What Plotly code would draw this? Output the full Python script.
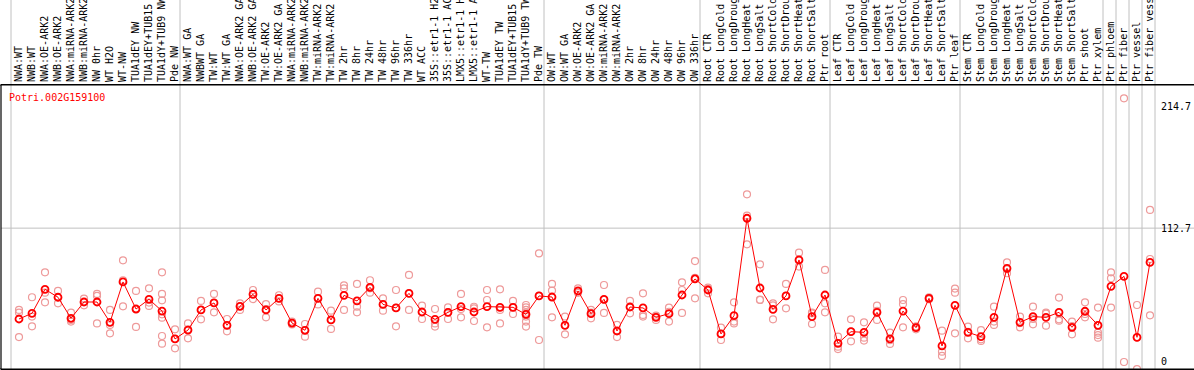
import plotly.graph_objects as go

categories = [
    "NWA:WT", "NWB:WT", "NWA:OE-ARK2", "NWB:OE-ARK2", "NWA:miRNA-ARK2", "NWB:miRNA-ARK2",
    "NW 0hr", "WT H2O", "WT-NW", "TUA1dEY NW", "TUA1dEY+TUB15 NW", "TUA1dY+TUB9 NW", "Pde NW",
    "NWA:WT GA", "NWBWT GA", "TW:WT", "TW:WT GA", "NWA:OE-ARK2 GA", "NWB:OE-ARK2 GA",
    "TW:OE-ARK2", "TW:OE-ARK2 GA", "NWA:miRNA-ARK2 GA", "NWB:miRNA-ARK2 GA", "TW:miRNA-ARK2",
    "TW:miRNA-ARK2", "TW 2hr", "TW 8hr", "TW 24hr", "TW 48hr", "TW 96hr", "TW 336hr", "WT ACC",
    "35S::etr1-1 H2O", "35S::etr1-1 ACC", "LMX5::etr1-1 H2O", "LMX5::etr1-1 ACC", "WT-TW",
    "TUA1dEY TW", "TUA1dEY+TUB15 TW", "TUA1dY+TUB9 TW", "Pde TW",
    "OW:WT", "OW:WT GA", "OW:OE-ARK2", "OW:OE-ARK2 GA", "OW:miRNA-ARK2", "OW:miRNA-ARK2",
    "OW 2hr", "OW 8hr", "OW 24hr", "OW 48hr", "OW 96hr", "OW 336hr",
    "Root CTR", "Root LongCold", "Root LongDrought", "Root LongHeat", "Root LongSalt",
    "Root ShortCold", "Root ShortDrought", "Root ShortHeat", "Root ShortSalt", "Ptr root",
    "Leaf CTR", "Leaf LongCold", "Leaf LongDrought", "Leaf LongHeat", "Leaf LongSalt",
    "Leaf ShortCold", "Leaf ShortDrought", "Leaf ShortHeat", "Leaf ShortSalt", "Ptr leaf",
    "Stem CTR", "Stem LongCold", "Stem LongDrought", "Stem LongHeat", "Stem LongSalt",
    "Stem ShortCold", "Stem ShortDrought", "Stem ShortHeat", "Stem ShortSalt", "Ptr shoot",
    "Ptr xylem", "Ptr phloem", "Ptr fiber", "Ptr vessel", "Ptr fiber vessel",
]

means = [
    36.2, 41.0, 61.2, 54.5, 36.8, 50.5, 50.5, 33.4, 67.4, 44.6, 52.8, 42.9, 19.4,
    26.9, 43.8, 49.7, 30.9, 46.9, 57.0, 43.8, 53.6, 32.8, 26.7, 53.6, 35.4, 56.1,
    51.4, 62.9, 48.5, 45.5, 57.8, 42.1, 35.9, 41.8, 46.6, 42.1, 46.6, 46.0, 46.0,
    40.1, 55.6, 54.7, 30.9, 59.8, 40.7, 52.8, 26.1, 46.3, 45.5, 37.6, 40.7, 56.4,
    69.9, 60.6, 23.6, 39.0, 121.0, 62.3, 44.3, 55.6, 85.9, 38.2, 56.4, 15.7, 25.5,
    25.0, 41.8, 19.4, 42.9, 28.9, 53.6, 13.5, 47.7, 25.0, 21.3, 37.6, 78.9, 33.4,
    38.2, 37.6, 41.8, 29.2, 42.7, 30.9, 63.7, 72.1, 20.8, 83.9,
]

replicates = [
    [43.8, 41.5, 21.0], [54.5, 38.2, 30.0], [75.5, 58.4, 50.2], [59.8, 54.3, 49.4],
    [41.5, 35.4, 34.0], [53.3, 50.5, 47.7], [57.3, 55.6, 32.5], [43.8, 31.2, 24.1],
    [85.6, 68.8, 46.9], [59.8, 44.6, 29.5], [62.0, 50.0, 47.2],
    [75.5, 57.3, 51.9, 40.1, 37.3, 21.9, 15.4], [27.5, 19.4, 11.5],
    [32.5, 27.5, 19.9], [51.4, 43.8, 35.9], [57.3, 49.7, 41.8], [36.2, 30.9, 25.8],
    [49.4, 46.9, 43.8], [60.6, 57.3, 53.0], [48.8, 44.5, 37.6], [56.2, 53.6, 51.0],
    [34.0, 32.8, 31.6], [32.0, 26.7, 21.3], [59.2, 53.6, 48.5], [43.2, 35.4, 27.8],
    [64.5, 62.0, 43.8], [65.7, 46.6, 41.8], [68.8, 62.0, 58.4], [53.6, 48.5, 43.2],
    [60.6, 45.5, 30.0], [73.3, 57.8, 43.8], [47.4, 42.1, 36.2], [44.6, 32.5, 29.8],
    [46.0, 41.8, 36.2], [57.3, 44.6, 37.6], [46.5, 45.2, 34.5], [60.6, 52.2, 29.2],
    [61.2, 43.8, 32.5], [51.4, 46.0, 40.4], [48.0, 46.0, 43.8, 41.5, 38.2, 34.0, 29.8],
    [91.5, 55.6, 18.5],
    [65.7, 60.1, 37.6], [38.2, 31.0, 23.3], [62.0, 59.2, 58.2], [43.8, 41.5, 36.8],
    [64.8, 52.5, 41.3], [31.2, 26.1, 21.0], [51.4, 46.5, 41.0], [57.8, 39.6, 38.2],
    [39.0, 38.4, 35.4], [45.8, 42.3, 34.0], [67.1, 60.6, 41.3], [85.0, 70.9, 53.6],
    [62.6, 61.4, 57.8], [28.9, 23.6, 18.5], [50.2, 34.0, 32.5], [141.2, 123.2, 99.1],
    [82.2, 52.5, 52.2], [49.4, 47.6, 35.9], [65.7, 55.6, 45.2], [92.0, 85.4, 80.3],
    [41.0, 41.6, 32.0], [77.5, 49.4, 41.8],
    [21.3, 12.9, 10.9], [35.9, 25.5, 17.4], [33.4, 20.5, 18.0], [47.4, 43.0, 35.4],
    [24.7, 18.3, 15.2], [52.2, 48.8, 29.2], [30.0, 29.2, 27.5], [54.5, 53.6, 52.8],
    [26.4, 8.7, 5.1], [61.8, 58.4, 24.1],
    [29.8, 25.3, 19.9], [26.9, 19.1, 17.7], [46.6, 34.0, 31.2], [83.9, 78.1, 74.7],
    [38.2, 32.8, 29.2], [46.6, 36.3, 31.7], [41.5, 40.7, 30.6], [54.2, 35.9, 34.8],
    [34.0, 30.3, 23.3], [50.2, 40.4, 37.6], [45.8, 31.0, 24.7, 22.7, 20.5],
    [75.5, 70.4, 45.8], [222.0, 0.0], [48.0, 20.8, -6.0], [128.0, 86.7, 39.3],
]

# index of the first category of each group (sample set boundaries)
group_starts = [0, 13, 41, 53, 63, 73, 84, 85, 86, 87, 88]

y_ticks = [0, 112.7, 214.7]
y_ticktext = ["0", "112.7", "214.7"]
gene_id = "Potri.002G159100"

FONT = "DejaVu Sans Mono"
GRID = "#c0c0c0"

x_idx = list(range(len(categories)))
rep_x, rep_y = [], []
for i, reps in enumerate(replicates):
    for v in reps:
        rep_x.append(i)
        rep_y.append(v)

fig = go.Figure()
fig.add_trace(go.Scatter(
    x=rep_x, y=rep_y, mode="markers",
    marker=dict(symbol="circle-open", size=7, color="#ee9a9a", line=dict(width=1.2)),
    hoverinfo="skip", showlegend=False,
))
fig.add_trace(go.Scatter(
    x=x_idx, y=means, mode="lines+markers",
    line=dict(color="#ff0000", width=1),
    marker=dict(symbol="circle-open", size=7, color="#ff0000", line=dict(width=1.8)),
    showlegend=False,
))

shapes = []
for k in group_starts:
    shapes.append(dict(type="line", xref="x", yref="paper", x0=k - 0.615, x1=k - 0.615,
                       y0=0, y1=1.31, line=dict(color=GRID, width=1), layer="below"))
shapes.append(dict(type="line", xref="paper", yref="y", x0=0, x1=1, y0=y_ticks[1], y1=y_ticks[1],
                   line=dict(color=GRID, width=1), layer="below"))
# frame: top, bottom, left
for yy in (0, 1):
    shapes.append(dict(type="line", xref="paper", yref="paper", x0=-0.002, x1=1.0, y0=yy, y1=yy,
                       line=dict(color="black", width=1.2), layer="above"))
shapes.append(dict(type="line", xref="paper", yref="paper", x0=0, x1=0, y0=0, y1=1,
                   line=dict(color="black", width=1.2), layer="above"))

fig.update_layout(
    width=1194, height=370,
    margin=dict(l=1, r=0, t=85, b=1, pad=0, autoexpand=False),
    paper_bgcolor="white", plot_bgcolor="white",
    font=dict(family=FONT, size=10, color="black"),
    title=dict(text=gene_id, x=9 / 1194, xanchor="left", xref="container",
               y=1 - 97 / 370, yanchor="middle", yref="container",
               font=dict(family=FONT, size=10, color="#ff0000")),
    xaxis=dict(range=[-1.385, 90.385], side="top", tickmode="array", tickvals=x_idx,
               ticktext=categories, tickangle=-90, showgrid=False, zeroline=False,
               showline=True, linecolor="black", linewidth=1, mirror=True,
               ticks="", automargin=False,
               tickfont=dict(family=FONT, size=10, color="black")),
    yaxis=dict(range=[-5.9, 233.2], anchor="free", position=0.9715, side="right",
               tickmode="array", tickvals=y_ticks, ticktext=y_ticktext, showgrid=False,
               zeroline=False, showline=False, ticks="", automargin=False,
               tickfont=dict(family=FONT, size=10, color="black")),
    shapes=shapes,
)

fig.write_html(
    "out.html",
    config={"displayModeBar": False},
    post_script="document.body.style.margin='0';document.body.style.overflow='hidden';",
)
